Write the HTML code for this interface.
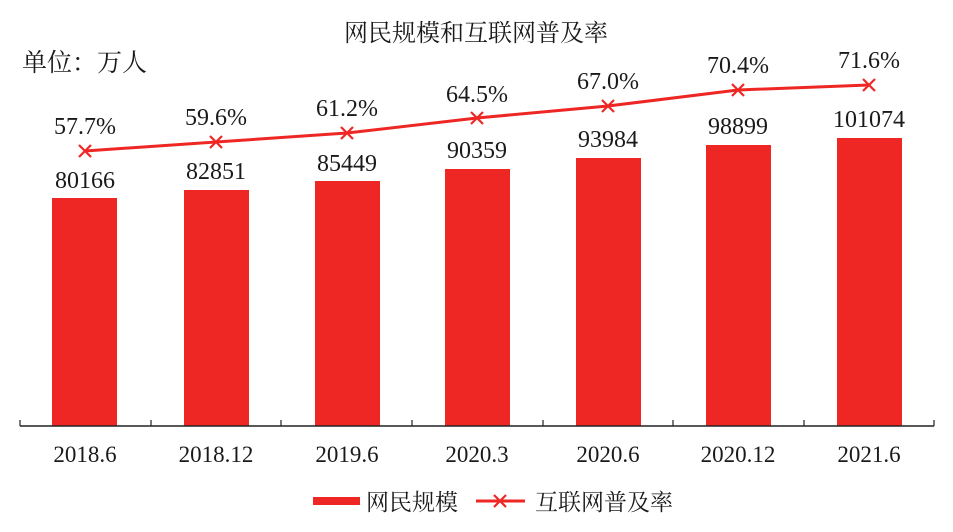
<!DOCTYPE html>
<html><head><meta charset="utf-8"><style>
body{margin:0;background:#fff}
svg text{font-family:"Liberation Serif","Noto Serif CJK SC","Noto Sans CJK SC",serif;fill:#1a1a1a}
</style></head><body>
<svg width="953" height="527" viewBox="0 0 953 527" xmlns="http://www.w3.org/2000/svg">
<text x="476" y="41" font-size="24" text-anchor="middle">网民规模和互联网普及率</text>
<text x="22" y="71" font-size="25">单位：万人</text>
<g fill="#ee2724">
<rect x="52" y="198" width="65" height="228"/>
<rect x="184" y="190" width="65" height="236"/>
<rect x="315" y="181" width="65" height="245"/>
<rect x="445" y="169" width="65" height="257"/>
<rect x="576" y="158" width="65" height="268"/>
<rect x="706" y="145" width="65" height="281"/>
<rect x="837" y="138" width="65" height="288"/>
</g>
<line x1="20" y1="426" x2="934" y2="426" stroke="#222" stroke-width="1.5"/>
<g stroke="#222" stroke-width="1.2">
<line x1="20" y1="420" x2="20" y2="426"/><line x1="151" y1="420" x2="151" y2="426"/><line x1="281" y1="420" x2="281" y2="426"/><line x1="412" y1="420" x2="412" y2="426"/><line x1="543" y1="420" x2="543" y2="426"/><line x1="673" y1="420" x2="673" y2="426"/><line x1="804" y1="420" x2="804" y2="426"/><line x1="934" y1="420" x2="934" y2="426"/>
</g>
<g font-size="24" text-anchor="middle">
<text x="85" y="188">80166</text><text x="216" y="179">82851</text><text x="347" y="171">85449</text><text x="477" y="158">90359</text><text x="608" y="147">93984</text><text x="738" y="134">98899</text><text x="869" y="127">101074</text>
<text x="85" y="134">57.7%</text><text x="216" y="125">59.6%</text><text x="347" y="116">61.2%</text><text x="477" y="102">64.5%</text><text x="608" y="89">67.0%</text><text x="738" y="73">70.4%</text><text x="869" y="68">71.6%</text>
</g>
<g font-size="23" text-anchor="middle">
<text x="85" y="462">2018.6</text><text x="216" y="462">2018.12</text><text x="347" y="462">2019.6</text><text x="477" y="462">2020.3</text><text x="608" y="462">2020.6</text><text x="738" y="462">2020.12</text><text x="869" y="462">2021.6</text>
</g>
<polyline points="85,151 216,142 347,133 477,118 608,106 738,90 869,85" fill="none" stroke="#ee2724" stroke-width="3"/>
<g stroke="#ee2724" stroke-width="2.2">
<path d="M79,145l12,12M91,145l-12,12"/><path d="M210,136l12,12M222,136l-12,12"/><path d="M341,127l12,12M353,127l-12,12"/><path d="M471,112l12,12M483,112l-12,12"/><path d="M602,100l12,12M614,100l-12,12"/><path d="M732,84l12,12M744,84l-12,12"/><path d="M863,79l12,12M875,79l-12,12"/>
</g>
<rect x="313" y="497" width="47" height="8" fill="#ee2724"/>
<text x="366" y="510" font-size="23">网民规模</text>
<line x1="476" y1="501" x2="525" y2="501" stroke="#ee2724" stroke-width="3"/>
<path d="M494,495l12,12M506,495l-12,12" stroke="#ee2724" stroke-width="2.2"/>
<text x="535" y="510" font-size="23">互联网普及率</text>
</svg>
</body></html>
